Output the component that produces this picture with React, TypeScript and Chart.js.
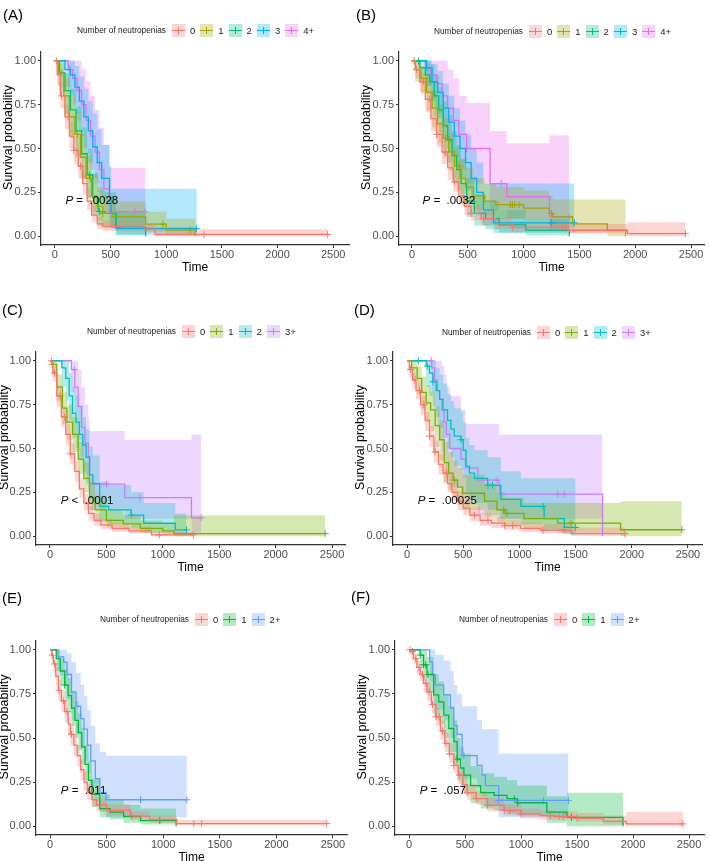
import React, { useEffect, useRef } from "react";
import { Chart, registerables } from "chart.js";

Chart.register(...registerables);

const FONT = "'Liberation Sans', Arial, Helvetica, sans-serif";

// ---------- tick labels ----------
const xTickValues = [0, 500, 1000, 1500, 2000, 2500];
const yTickValues = [0, 0.25, 0.5, 0.75, 1];

// ---------- palettes ----------
const colors5 = ["#F8766D", "#A3A500", "#00BF7D", "#00B0F6", "#E76BF3"];
const colors4 = ["#F8766D", "#7CAE00", "#00BFC4", "#C77CFF"];
const colors3 = ["#F8766D", "#00BA38", "#619CFF"];

// ---------- group labels ----------
const labels5 = ["0", "1", "2", "3", "4+"];
const labels4 = ["0", "1", "2", "3+"];
const labels3 = ["0", "1", "2+"];

// ---------- p-values ----------
const pValues = [".0028", ".0032", ".0001", ".00025", ".011", ".057"];
const pOperators = ["=", "=", "<", "=", "=", "="];

// ================= Panel A =================
const a0Time = [0, 20, 50, 90, 130, 170, 210, 250, 290, 330, 380, 430, 600, 800, 900, 2450];
const a0Surv = [1, 0.92, 0.8, 0.68, 0.57, 0.49, 0.4, 0.3, 0.2, 0.12, 0.07, 0.055, 0.05, 0.04, 0.01, 0.01];
const a0Upper = [1, 0.97, 0.87, 0.75, 0.65, 0.57, 0.48, 0.37, 0.27, 0.18, 0.11, 0.09, 0.085, 0.07, 0.04, 0.04];
const a0Lower = [1, 0.86, 0.73, 0.61, 0.5, 0.41, 0.33, 0.24, 0.15, 0.08, 0.04, 0.03, 0.025, 0.02, 0, 0];
const a0Censor = [15, 60, 120, 170, 230, 1340, 2450];

const a1Time = [0, 30, 80, 130, 180, 230, 280, 330, 380, 430, 520, 815, 1000, 1260];
const a1Surv = [1, 0.93, 0.8, 0.68, 0.58, 0.45, 0.33, 0.23, 0.17, 0.13, 0.11, 0.069, 0.035, 0];
const a1Upper = [1, 0.99, 0.9, 0.8, 0.71, 0.58, 0.46, 0.35, 0.28, 0.23, 0.2, 0.14, 0.1, 0.1];
const a1Lower = [1, 0.85, 0.69, 0.56, 0.45, 0.33, 0.22, 0.14, 0.09, 0.06, 0.05, 0.025, 0.005, 0];
const a1Censor = [60, 200, 320, 430, 970, 1215];

const a2Time = [0, 40, 90, 140, 190, 240, 290, 340, 390, 450, 550, 815];
const a2Surv = [1, 0.93, 0.83, 0.72, 0.6, 0.47, 0.35, 0.22, 0.14, 0.13, 0.05, 0];
const a2Upper = [1, 1, 0.93, 0.84, 0.74, 0.62, 0.5, 0.36, 0.26, 0.25, 0.14, 0.14];
const a2Lower = [1, 0.82, 0.7, 0.58, 0.46, 0.33, 0.22, 0.12, 0.06, 0.05, 0.01, 0];
const a2Censor = [310, 400];

const a3Time = [0, 90, 140, 180, 220, 260, 300, 340, 380, 420, 490, 505, 549, 1275];
const a3Surv = [1, 0.95, 0.92, 0.85, 0.77, 0.68, 0.6, 0.51, 0.42, 0.33, 0.22, 0.13, 0.044, 0.044];
const a3Upper = [1, 1, 1, 0.97, 0.91, 0.84, 0.77, 0.7, 0.61, 0.52, 0.4, 0.27, 0.27, 0.27];
const a3Lower = [1, 0.85, 0.8, 0.7, 0.6, 0.5, 0.42, 0.33, 0.25, 0.18, 0.1, 0.04, 0.005, 0.005];
const a3Censor = [135, 1270];

const a4Time = [0, 120, 160, 200, 240, 280, 320, 360, 400, 440, 490, 815];
const a4Surv = [1, 0.95, 0.9, 0.83, 0.75, 0.66, 0.57, 0.48, 0.38, 0.27, 0.14, 0.14];
const a4Upper = [1, 1, 1, 1, 0.95, 0.88, 0.8, 0.72, 0.62, 0.52, 0.39, 0.39];
const a4Lower = [1, 0.82, 0.75, 0.66, 0.57, 0.47, 0.38, 0.3, 0.22, 0.14, 0.05, 0.05];
const a4Censor = [500, 720, 810];

// ================= Panel B =================
const b0Time = [0, 30, 70, 120, 170, 220, 270, 320, 370, 420, 470, 530, 620, 750, 900, 1400, 1930, 2450];
const b0Surv = [1, 0.95, 0.88, 0.78, 0.67, 0.58, 0.48, 0.39, 0.31, 0.23, 0.17, 0.13, 0.1, 0.07, 0.05, 0.034, 0.015, 0.015];
const b0Upper = [1, 0.99, 0.93, 0.84, 0.74, 0.65, 0.55, 0.46, 0.38, 0.29, 0.23, 0.18, 0.15, 0.11, 0.085, 0.07, 0.08, 0.08];
const b0Lower = [1, 0.9, 0.82, 0.71, 0.6, 0.51, 0.41, 0.32, 0.25, 0.18, 0.12, 0.09, 0.065, 0.04, 0.025, 0.015, 0, 0];
const b0Censor = [40, 100, 160, 220, 300, 380, 530, 640, 900, 1350, 1380, 2450];

const b1Time = [0, 30, 80, 130, 180, 230, 280, 330, 380, 430, 480, 550, 650, 750, 1000, 1230, 1260, 1440, 1750, 1915];
const b1Surv = [1, 0.95, 0.9, 0.82, 0.73, 0.64, 0.56, 0.48, 0.4, 0.33, 0.28, 0.23, 0.2, 0.18, 0.16, 0.13, 0.11, 0.07, 0.035, 0];
const b1Upper = [1, 1, 0.97, 0.91, 0.83, 0.75, 0.67, 0.59, 0.51, 0.44, 0.39, 0.33, 0.3, 0.28, 0.26, 0.23, 0.21, 0.21, 0.21, 0.21];
const b1Lower = [1, 0.88, 0.81, 0.72, 0.62, 0.53, 0.45, 0.37, 0.3, 0.24, 0.19, 0.15, 0.12, 0.1, 0.09, 0.06, 0.05, 0.02, 0, 0];
const b1Censor = [20, 300, 420, 880, 900, 920, 960, 1250];

const b2Time = [0, 70, 120, 160, 200, 240, 280, 320, 360, 400, 440, 490, 560, 660, 780, 1020, 1410];
const b2Surv = [1, 0.96, 0.92, 0.88, 0.8, 0.72, 0.63, 0.55, 0.46, 0.38, 0.3, 0.2, 0.13, 0.1, 0.065, 0.035, 0];
const b2Upper = [1, 1, 1, 0.98, 0.92, 0.85, 0.77, 0.69, 0.6, 0.52, 0.44, 0.33, 0.24, 0.2, 0.15, 0.1, 0.1];
const b2Lower = [1, 0.88, 0.82, 0.77, 0.68, 0.59, 0.5, 0.42, 0.33, 0.26, 0.19, 0.11, 0.06, 0.04, 0.02, 0.005, 0];
const b2Censor = [60, 330];

const b3Time = [0, 130, 180, 230, 280, 330, 380, 430, 480, 530, 580, 640, 730, 1455];
const b3Surv = [1, 0.96, 0.88, 0.82, 0.73, 0.65, 0.57, 0.5, 0.42, 0.33, 0.25, 0.15, 0.076, 0.076];
const b3Upper = [1, 1, 0.98, 0.94, 0.87, 0.8, 0.73, 0.66, 0.58, 0.5, 0.42, 0.3, 0.3, 0.3];
const b3Lower = [1, 0.86, 0.74, 0.67, 0.57, 0.48, 0.4, 0.33, 0.26, 0.18, 0.12, 0.06, 0.02, 0.02];
const b3Censor = [135, 1250, 1455];

const b4Time = [0, 120, 170, 220, 270, 320, 370, 420, 490, 700, 850, 1232, 1410];
const b4Surv = [1, 0.96, 0.92, 0.87, 0.8, 0.73, 0.66, 0.58, 0.5, 0.3, 0.225, 0.11, 0.11];
const b4Upper = [1, 1, 1, 1, 1, 0.95, 0.9, 0.8, 0.76, 0.6, 0.53, 0.575, 0.575];
const b4Lower = [1, 0.85, 0.78, 0.7, 0.62, 0.53, 0.45, 0.38, 0.3, 0.15, 0.1, 0.03, 0.03];
const b4Censor = [490, 800, 1410];

// ================= Panel C =================
const c0Time = [0, 25, 60, 100, 140, 180, 220, 260, 300, 340, 390, 450, 550, 700, 900, 1270];
const c0Surv = [1, 0.93, 0.8, 0.68, 0.58, 0.47, 0.37, 0.27, 0.19, 0.13, 0.09, 0.065, 0.045, 0.03, 0.008, 0.008];
const c0Upper = [1, 0.97, 0.86, 0.74, 0.64, 0.53, 0.43, 0.33, 0.24, 0.17, 0.13, 0.1, 0.075, 0.055, 0.025, 0.025];
const c0Lower = [1, 0.88, 0.74, 0.62, 0.52, 0.41, 0.31, 0.22, 0.15, 0.09, 0.06, 0.04, 0.025, 0.015, 0, 0];
const c0Censor = [15, 40, 90, 130, 180, 970, 1270];

const c1Time = [0, 20, 60, 110, 150, 200, 250, 300, 350, 400, 500, 650, 800, 1000, 1100, 2440];
const c1Surv = [1, 0.98, 0.85, 0.73, 0.65, 0.58, 0.44, 0.33, 0.22, 0.15, 0.09, 0.07, 0.045, 0.03, 0.015, 0.015];
const c1Upper = [1, 1, 0.92, 0.82, 0.75, 0.68, 0.54, 0.42, 0.31, 0.23, 0.15, 0.12, 0.09, 0.07, 0.12, 0.12];
const c1Lower = [1, 0.93, 0.77, 0.64, 0.55, 0.48, 0.35, 0.25, 0.15, 0.09, 0.05, 0.035, 0.02, 0.01, 0, 0];
const c1Censor = [20, 2440];

const c2Time = [0, 105, 140, 170, 200, 230, 260, 290, 320, 350, 380, 440, 520, 720, 830, 1110, 1210];
const c2Surv = [1, 0.96, 0.9, 0.8, 0.7, 0.65, 0.58, 0.52, 0.45, 0.35, 0.3, 0.17, 0.15, 0.12, 0.074, 0.036, 0.036];
const c2Upper = [1, 1, 1, 0.93, 0.85, 0.8, 0.74, 0.68, 0.61, 0.51, 0.46, 0.31, 0.29, 0.25, 0.19, 0.13, 0.13];
const c2Lower = [1, 0.85, 0.77, 0.66, 0.56, 0.5, 0.43, 0.37, 0.3, 0.22, 0.18, 0.08, 0.07, 0.05, 0.02, 0.005, 0.005];
const c2Censor = [720, 1210];

const c3Time = [0, 190, 220, 250, 280, 310, 340, 352, 663, 1254, 1340];
const c3Surv = [1, 0.95, 0.85, 0.74, 0.62, 0.53, 0.45, 0.297, 0.22, 0.105, 0.105];
const c3Upper = [1, 1, 1, 0.95, 0.85, 0.75, 0.68, 0.6, 0.55, 0.58, 0.58];
const c3Lower = [1, 0.82, 0.7, 0.55, 0.45, 0.35, 0.27, 0.15, 0.1, 0.02, 0.02];
const c3Censor = [215, 500, 796, 1340];

// ================= Panel D =================
const d0Time = [0, 20, 50, 80, 120, 160, 200, 240, 280, 320, 360, 400, 450, 500, 560, 650, 750, 870, 1010, 1190, 1460, 1940];
const d0Surv = [1, 0.95, 0.89, 0.83, 0.75, 0.66, 0.57, 0.48, 0.41, 0.36, 0.3, 0.25, 0.2, 0.16, 0.12, 0.09, 0.075, 0.06, 0.045, 0.035, 0.015, 0.015];
const d0Upper = [1, 0.98, 0.93, 0.88, 0.8, 0.71, 0.63, 0.54, 0.47, 0.42, 0.36, 0.31, 0.26, 0.21, 0.17, 0.13, 0.11, 0.095, 0.08, 0.07, 0.05, 0.05];
const d0Lower = [1, 0.91, 0.84, 0.78, 0.69, 0.6, 0.51, 0.42, 0.35, 0.3, 0.25, 0.2, 0.15, 0.12, 0.085, 0.06, 0.045, 0.035, 0.025, 0.015, 0.002, 0.002];
const d0Censor = [30, 70, 110, 150, 200, 250, 350, 600, 720, 870, 940, 1210, 1390, 1940];

const d1Time = [0, 40, 90, 130, 170, 210, 250, 290, 330, 370, 410, 450, 495, 690, 800, 870, 1040, 1340, 1900, 2445];
const d1Surv = [1, 0.96, 0.9, 0.82, 0.76, 0.72, 0.63, 0.55, 0.42, 0.36, 0.32, 0.28, 0.245, 0.2, 0.15, 0.13, 0.1, 0.075, 0.037, 0.037];
const d1Upper = [1, 1, 0.97, 0.91, 0.86, 0.82, 0.74, 0.66, 0.54, 0.48, 0.43, 0.39, 0.35, 0.3, 0.25, 0.22, 0.19, 0.19, 0.2, 0.2];
const d1Lower = [1, 0.89, 0.81, 0.72, 0.65, 0.6, 0.51, 0.43, 0.31, 0.26, 0.22, 0.18, 0.15, 0.11, 0.08, 0.06, 0.04, 0.02, 0, 0];
const d1Censor = [420, 860, 890, 1460, 2445];

const d2Time = [0, 170, 200, 230, 260, 290, 320, 360, 390, 420, 480, 500, 525, 555, 600, 717, 835, 1013, 1220, 1400, 1500];
const d2Surv = [1, 0.97, 0.93, 0.88, 0.83, 0.78, 0.72, 0.66, 0.61, 0.57, 0.55, 0.49, 0.4, 0.36, 0.33, 0.29, 0.21, 0.17, 0.1, 0.05, 0.05];
const d2Upper = [1, 1, 1, 1, 0.96, 0.92, 0.87, 0.81, 0.77, 0.73, 0.71, 0.65, 0.56, 0.52, 0.49, 0.45, 0.37, 0.33, 0.33, 0.33, 0.33];
const d2Lower = [1, 0.85, 0.8, 0.74, 0.68, 0.62, 0.56, 0.5, 0.45, 0.4, 0.38, 0.33, 0.25, 0.21, 0.19, 0.15, 0.1, 0.07, 0.03, 0.01, 0.01];
const d2Censor = [100, 180, 230, 480, 720, 760, 1210, 1500];

const d3Time = [0, 220, 245, 270, 290, 310, 330, 350, 380, 480, 520, 630, 820, 1740];
const d3Surv = [1, 0.96, 0.89, 0.83, 0.78, 0.72, 0.65, 0.58, 0.5, 0.44, 0.39, 0.32, 0.24, 0];
const d3Upper = [1, 1, 1, 1, 1, 0.97, 0.92, 0.85, 0.8, 0.72, 0.64, 0.64, 0.58, 0.58];
const d3Lower = [1, 0.82, 0.72, 0.62, 0.55, 0.48, 0.42, 0.35, 0.28, 0.22, 0.18, 0.12, 0.1, 0.1];
const d3Censor = [215, 800, 1340, 1400];

// ================= Panel E =================
const e0Time = [0, 15, 30, 50, 75, 100, 130, 160, 180, 210, 240, 270, 300, 330, 370, 410, 500, 710, 880, 1120, 2445];
const e0Surv = [1, 0.97, 0.92, 0.85, 0.77, 0.71, 0.65, 0.58, 0.52, 0.46, 0.4, 0.32, 0.25, 0.19, 0.15, 0.12, 0.09, 0.057, 0.038, 0.015, 0.015];
const e0Upper = [1, 1, 0.96, 0.9, 0.83, 0.77, 0.71, 0.64, 0.58, 0.52, 0.46, 0.38, 0.31, 0.24, 0.2, 0.16, 0.125, 0.085, 0.06, 0.035, 0.035];
const e0Lower = [1, 0.94, 0.87, 0.79, 0.71, 0.65, 0.59, 0.52, 0.46, 0.4, 0.34, 0.26, 0.2, 0.15, 0.11, 0.085, 0.06, 0.035, 0.02, 0.005, 0.005];
const e0Censor = [20, 40, 80, 120, 150, 190, 720, 1270, 1340, 2445];

const e1Time = [0, 55, 90, 130, 160, 190, 220, 250, 280, 310, 340, 370, 440, 530, 650, 800, 1114];
const e1Surv = [1, 0.95, 0.88, 0.8, 0.74, 0.67, 0.6, 0.53, 0.45, 0.35, 0.26, 0.18, 0.1, 0.08, 0.055, 0.032, 0];
const e1Upper = [1, 1, 0.95, 0.89, 0.84, 0.77, 0.71, 0.64, 0.56, 0.46, 0.37, 0.27, 0.18, 0.15, 0.12, 0.1, 0.1];
const e1Lower = [1, 0.88, 0.8, 0.71, 0.64, 0.57, 0.5, 0.43, 0.35, 0.26, 0.18, 0.11, 0.05, 0.04, 0.02, 0.01, 0];
const e1Censor = [130, 970];

const e2Time = [0, 70, 120, 150, 190, 230, 270, 300, 330, 360, 400, 440, 495, 1209];
const e2Surv = [1, 0.96, 0.93, 0.86, 0.76, 0.68, 0.61, 0.55, 0.46, 0.37, 0.27, 0.19, 0.15, 0.15];
const e2Upper = [1, 1, 1, 0.98, 0.93, 0.87, 0.8, 0.74, 0.66, 0.57, 0.47, 0.42, 0.4, 0.4];
const e2Lower = [1, 0.85, 0.8, 0.72, 0.6, 0.52, 0.44, 0.37, 0.3, 0.22, 0.14, 0.08, 0.05, 0.05];
const e2Censor = [800, 1209];

// ================= Panel F =================
const f0Time = [0, 15, 40, 70, 100, 130, 160, 200, 240, 280, 320, 360, 400, 440, 480, 520, 600, 700, 850, 1000, 1170, 1300, 1500, 1735, 1940, 2445];
const f0Surv = [1, 0.99, 0.95, 0.9, 0.86, 0.81, 0.76, 0.69, 0.62, 0.54, 0.47, 0.41, 0.345, 0.29, 0.235, 0.19, 0.156, 0.118, 0.089, 0.07, 0.06, 0.055, 0.045, 0.027, 0.013, 0.013];
const f0Upper = [1, 1, 0.98, 0.94, 0.9, 0.86, 0.81, 0.74, 0.67, 0.6, 0.53, 0.47, 0.4, 0.34, 0.29, 0.24, 0.2, 0.16, 0.125, 0.1, 0.09, 0.085, 0.075, 0.06, 0.08, 0.08];
const f0Lower = [1, 0.97, 0.92, 0.86, 0.82, 0.76, 0.71, 0.64, 0.57, 0.49, 0.42, 0.36, 0.3, 0.24, 0.19, 0.15, 0.12, 0.085, 0.06, 0.045, 0.037, 0.033, 0.025, 0.01, 0, 0];
const f0Censor = [10, 30, 60, 90, 120, 150, 180, 210, 240, 270, 300, 330, 360, 400, 450, 520, 600, 700, 850, 900, 1000, 1260, 1340, 1380, 1500, 2445];

const f1Time = [0, 100, 130, 160, 220, 265, 310, 355, 400, 430, 460, 490, 550, 640, 760, 875, 965, 1230, 1410, 1910];
const f1Surv = [1, 0.97, 0.915, 0.86, 0.745, 0.705, 0.63, 0.554, 0.48, 0.38, 0.33, 0.29, 0.23, 0.19, 0.175, 0.156, 0.133, 0.08, 0.05, 0];
const f1Upper = [1, 1, 1, 0.96, 0.86, 0.82, 0.75, 0.68, 0.6, 0.5, 0.45, 0.41, 0.34, 0.3, 0.28, 0.26, 0.23, 0.17, 0.19, 0.19];
const f1Lower = [1, 0.9, 0.83, 0.76, 0.62, 0.58, 0.5, 0.42, 0.35, 0.26, 0.22, 0.18, 0.13, 0.1, 0.09, 0.07, 0.06, 0.02, 0, 0];
const f1Censor = [100, 130, 150, 170, 430, 940, 970, 1450];

const f2Time = [0, 185, 210, 235, 310, 370, 400, 430, 474, 608, 652, 682, 800, 1424];
const f2Surv = [1, 0.93, 0.86, 0.8, 0.745, 0.67, 0.57, 0.52, 0.4, 0.345, 0.29, 0.23, 0.146, 0.146];
const f2Upper = [1, 1, 1, 0.97, 0.94, 0.88, 0.8, 0.75, 0.68, 0.6, 0.55, 0.55, 0.41, 0.41];
const f2Lower = [1, 0.82, 0.74, 0.66, 0.6, 0.5, 0.42, 0.37, 0.27, 0.22, 0.17, 0.12, 0.05, 0.05];
const f2Censor = [490, 800, 1200, 1424];

// ---------- helpers ----------
function rgba(hex: string, a: number) {
  const n = parseInt(hex.slice(1), 16);
  return `rgba(${(n >> 16) & 255},${(n >> 8) & 255},${n & 255},${a})`;
}
function survAt(time: number[], surv: number[], t: number) {
  let v = surv[0];
  for (let i = 0; i < time.length; i++) {
    if (time[i] <= t) v = surv[i];
    else break;
  }
  return v;
}
function grp(label: string, color: string, time: number[], surv: number[], upper: number[], lower: number[], censor: number[]) {
  return { label, color, time, surv, upper, lower, censor };
}

const panels: any[] = [
  {
    tag: "(A)", tagX: 3, tagY: 7, ox: 0, oy: 0, w: 354,
    area: { l: 41, r: 352, t: 52, b: 245 }, xMin: -125, xMax: 2642,
    legendX: 77, legendY: 30, p: 0,
    groups: [
      grp(labels5[0], colors5[0], a0Time, a0Surv, a0Upper, a0Lower, a0Censor),
      grp(labels5[1], colors5[1], a1Time, a1Surv, a1Upper, a1Lower, a1Censor),
      grp(labels5[2], colors5[2], a2Time, a2Surv, a2Upper, a2Lower, a2Censor),
      grp(labels5[3], colors5[3], a3Time, a3Surv, a3Upper, a3Lower, a3Censor),
      grp(labels5[4], colors5[4], a4Time, a4Surv, a4Upper, a4Lower, a4Censor),
    ],
  },
  {
    tag: "(B)", tagX: 356, tagY: 7, ox: 354, oy: 0, w: 355,
    area: { l: 45, r: 352, t: 52, b: 245 }, xMin: -116, xMax: 2616,
    legendX: 434, legendY: 31, p: 1,
    groups: [
      grp(labels5[0], colors5[0], b0Time, b0Surv, b0Upper, b0Lower, b0Censor),
      grp(labels5[1], colors5[1], b1Time, b1Surv, b1Upper, b1Lower, b1Censor),
      grp(labels5[2], colors5[2], b2Time, b2Surv, b2Upper, b2Lower, b2Censor),
      grp(labels5[3], colors5[3], b3Time, b3Surv, b3Upper, b3Lower, b3Censor),
      grp(labels5[4], colors5[4], b4Time, b4Surv, b4Upper, b4Lower, b4Censor),
    ],
  },
  {
    tag: "(C)", tagX: 2, tagY: 302, ox: 0, oy: 290, w: 354,
    area: { l: 36, r: 345, t: 62, b: 255 }, xMin: -124, xMax: 2615,
    legendX: 87, legendY: 331, p: 2,
    groups: [
      grp(labels4[0], colors4[0], c0Time, c0Surv, c0Upper, c0Lower, c0Censor),
      grp(labels4[1], colors4[1], c1Time, c1Surv, c1Upper, c1Lower, c1Censor),
      grp(labels4[2], colors4[2], c2Time, c2Surv, c2Upper, c2Lower, c2Censor),
      grp(labels4[3], colors4[3], c3Time, c3Surv, c3Upper, c3Lower, c3Censor),
    ],
  },
  {
    tag: "(D)", tagX: 354, tagY: 302, ox: 354, oy: 290, w: 355,
    area: { l: 39, r: 348, t: 62, b: 255 }, xMin: -125, xMax: 2625,
    legendX: 442, legendY: 332, p: 3,
    groups: [
      grp(labels4[0], colors4[0], d0Time, d0Surv, d0Upper, d0Lower, d0Censor),
      grp(labels4[1], colors4[1], d1Time, d1Surv, d1Upper, d1Lower, d1Censor),
      grp(labels4[2], colors4[2], d2Time, d2Surv, d2Upper, d2Lower, d2Censor),
      grp(labels4[3], colors4[3], d3Time, d3Surv, d3Upper, d3Lower, d3Censor),
    ],
  },
  {
    tag: "(E)", tagX: 2, tagY: 590, ox: 0, oy: 575, w: 354,
    area: { l: 36, r: 347, t: 66, b: 260 }, xMin: -124, xMax: 2624,
    legendX: 100, legendY: 619, p: 4,
    groups: [
      grp(labels3[0], colors3[0], e0Time, e0Surv, e0Upper, e0Lower, e0Censor),
      grp(labels3[1], colors3[1], e1Time, e1Surv, e1Upper, e1Lower, e1Censor),
      grp(labels3[2], colors3[2], e2Time, e2Surv, e2Upper, e2Lower, e2Censor),
    ],
  },
  {
    tag: "(F)", tagX: 351, tagY: 589, ox: 354, oy: 575, w: 355,
    area: { l: 41, r: 351, t: 66, b: 260 }, xMin: -125, xMax: 2633,
    legendX: 459, legendY: 619, p: 5,
    groups: [
      grp(labels3[0], colors3[0], f0Time, f0Surv, f0Upper, f0Lower, f0Censor),
      grp(labels3[1], colors3[1], f1Time, f1Surv, f1Upper, f1Lower, f1Censor),
      grp(labels3[2], colors3[2], f2Time, f2Surv, f2Upper, f2Lower, f2Censor),
    ],
  },
];

const pValuePlugin = {
  id: "pvalue",
  afterDatasetsDraw(chart: any, _args: any, opts: any) {
    const { ctx, scales } = chart;
    const x = scales.x.getPixelForValue(opts.x);
    const y = scales.y.getPixelForValue(opts.y);
    ctx.save();
    ctx.fillStyle = "#000";
    ctx.textBaseline = "middle";
    ctx.textAlign = "left";
    ctx.font = `italic 11.5px ${FONT}`;
    ctx.fillText("P", x, y);
    const w = ctx.measureText("P").width;
    ctx.font = `11.5px ${FONT}`;
    ctx.fillText(` ${opts.op}  ${opts.value}`, x + w, y);
    ctx.restore();
  },
};

const yTitlePlugin = {
  id: "ytitle",
  afterDraw(chart: any, _args: any, opts: any) {
    const { ctx, chartArea } = chart;
    ctx.save();
    ctx.translate(opts.x, (chartArea.top + chartArea.bottom) / 2 + opts.dy);
    ctx.rotate(-Math.PI / 2);
    ctx.fillStyle = "#000";
    ctx.textAlign = "center";
    ctx.textBaseline = "middle";
    ctx.font = `${opts.size}px ${FONT}`;
    ctx.fillText(opts.text, 0, 0);
    ctx.restore();
  },
};

function Panel({ cfg }: { cfg: any }) {
  const ref = useRef<HTMLCanvasElement>(null);
  const H = cfg.area.b + 32;
  useEffect(() => {
    if (!ref.current) return;
    const datasets: any[] = [];
    cfg.groups.forEach((g: any) => {
      datasets.push({
        data: g.time.map((t: number, i: number) => ({ x: t, y: g.upper[i] })),
        stepped: true, borderWidth: 0, borderColor: "rgba(0,0,0,0)", pointRadius: 0,
        fill: "+1", backgroundColor: rgba(g.color, 0.3),
      });
      datasets.push({
        data: g.time.map((t: number, i: number) => ({ x: t, y: g.lower[i] })),
        stepped: true, borderWidth: 0, borderColor: "rgba(0,0,0,0)", pointRadius: 0, fill: false,
      });
    });
    cfg.groups.forEach((g: any) => {
      datasets.push({
        data: g.time.map((t: number, i: number) => ({ x: t, y: g.surv[i] })),
        stepped: true, borderWidth: 1.3, borderColor: g.color, pointRadius: 0, fill: false,
      });
    });
    cfg.groups.forEach((g: any) => {
      datasets.push({
        data: g.censor.map((t: number) => ({ x: t, y: survAt(g.time, g.surv, t) })),
        showLine: false, pointStyle: "cross", pointRadius: 3.5, pointBorderWidth: 1,
        borderColor: g.color, pointBorderColor: g.color, fill: false,
      });
    });
    const area = cfg.area;
    const chart = new Chart(ref.current, {
      type: "line",
      data: { datasets },
      plugins: [pValuePlugin, yTitlePlugin],
      options: {
        animation: false,
        responsive: false,
        devicePixelRatio: 1,
        events: [],
        layout: { padding: { top: area.t, right: cfg.w - area.r, left: 0, bottom: 2 } },
        plugins: {
          legend: { display: false },
          tooltip: { enabled: false },
          filler: { drawTime: "beforeDatasetsDraw" },
          pvalue: { x: 95, y: 0.2, op: pOperators[cfg.p], value: pValues[cfg.p] },
          ytitle: { text: "Survival probability", x: Math.max(area.l - 32.5, 5), dy: -11, size: 12.5 },
        } as any,
        scales: {
          x: {
            type: "linear",
            min: cfg.xMin,
            max: cfg.xMax,
            afterBuildTicks: (s: any) => { s.ticks = xTickValues.map((v) => ({ value: v })); },
            afterFit: (s: any) => { s.height = 30; },
            ticks: { autoSkip: false, maxRotation: 0, padding: 0, color: "#4D4D4D", font: { family: FONT, size: 11 }, callback: (v: any) => String(v) },
            grid: { display: true, drawOnChartArea: false, drawTicks: true, tickLength: 3, color: "#333" },
            border: { display: true, color: "#333", width: 1.2 },
            title: { display: true, text: "Time", color: "#000", font: { family: FONT, size: 12 }, padding: { top: 0, bottom: 0 } },
          },
          y: {
            type: "linear",
            min: -0.05,
            max: 1.05,
            afterBuildTicks: (s: any) => { s.ticks = yTickValues.map((v) => ({ value: v })); },
            afterFit: (s: any) => { s.width = area.l; },
            ticks: { autoSkip: false, padding: 2, color: "#4D4D4D", font: { family: FONT, size: 11 }, callback: (v: any) => Number(v).toFixed(2) },
            grid: { display: true, drawOnChartArea: false, drawTicks: true, tickLength: 3, color: "#333" },
            border: { display: true, color: "#333", width: 1.2 },
            title: { display: false },
          },
        },
      } as any,
    });
    return () => chart.destroy();
  }, []);

  return (
    <>
      <canvas
        ref={ref}
        width={cfg.w}
        height={H}
        style={{ position: "absolute", left: cfg.ox, top: cfg.oy, width: cfg.w, height: H }}
      />
      <div
        style={{
          position: "absolute", left: cfg.tagX, top: cfg.tagY, fontFamily: FONT,
          fontSize: 15, lineHeight: "15px", color: "#000", whiteSpace: "nowrap",
        }}
      >
        {cfg.tag}
      </div>
      <div
        style={{
          position: "absolute", left: cfg.legendX, top: cfg.legendY - 7, height: 14,
          display: "flex", alignItems: "center", fontFamily: FONT, color: "#222", whiteSpace: "nowrap",
        }}
      >
        <span style={{ fontSize: 8.3, marginRight: 6 }}>Number of neutropenias</span>
        {cfg.groups.map((g: any) => (
          <React.Fragment key={g.label}>
            <span style={{ position: "relative", display: "inline-block", width: 13, height: 13, background: rgba(g.color, 0.3) }}>
              <span style={{ position: "absolute", left: 0, width: 13, top: 6, height: 1, background: g.color }} />
              <span style={{ position: "absolute", left: 6, width: 1, top: 3, height: 7, background: g.color }} />
            </span>
            <span style={{ fontSize: 9.5, marginLeft: 5, marginRight: 5 }}>{g.label}</span>
          </React.Fragment>
        ))}
      </div>
    </>
  );
}

export default function App() {
  return (
    <div
      style={{
        position: "absolute", left: 0, top: 0, width: 709, height: 861,
        overflow: "hidden", background: "#fff",
      }}
    >
      {panels.map((p) => (
        <Panel key={p.tag} cfg={p} />
      ))}
    </div>
  );
}
